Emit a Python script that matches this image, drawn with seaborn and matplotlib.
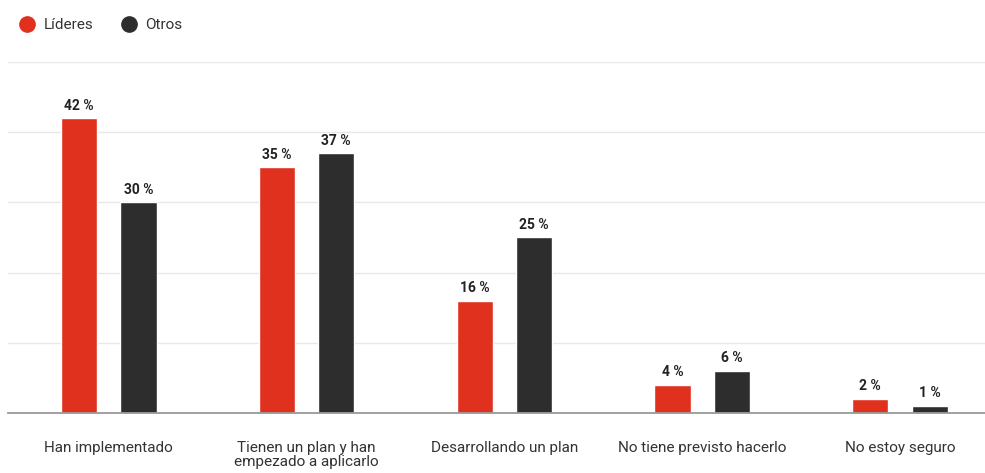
import pandas as pd
import seaborn as sns
import matplotlib.pyplot as plt
from matplotlib.lines import Line2D

# data
categorias = ["Han implementado", "Tienen un plan y han\nempezado a aplicarlo",
              "Desarrollando un plan", "No tiene previsto hacerlo", "No estoy seguro"]
lideres = [42, 35, 16, 4, 2]
otros = [30, 37, 25, 6, 1]
grupos = ["Líderes", "Otros"]
colores = ["#e0301e", "#2d2d2d"]

df = pd.DataFrame({
    "cat": categorias * 2,
    "valor": lideres + otros,
    "grupo": [grupos[0]] * len(categorias) + [grupos[1]] * len(categorias),
})

sns.set_style("white")
plt.rcParams['font.family'] = ['Roboto', 'DejaVu Sans']

fig = plt.figure(figsize=(9.85, 4.73), dpi=100)
ax = fig.add_axes([8 / 985, 60 / 473, 977 / 985, 351 / 473])

sns.barplot(data=df, x="cat", y="valor", hue="grupo", palette=colores,
            width=0.6, gap=0.39, saturation=1, legend=False, ax=ax)

for cont in ax.containers:
    ax.bar_label(cont, fmt="{:.0f} %", padding=4, fontsize=10,
                 fontweight="bold", color="#222222")

ax.set_ylim(0, 50)
ax.set_xlim(-0.51, 4.43)
ax.set_yticks(range(0, 51, 10))
ax.yaxis.grid(True, color="#e8e8e8", linewidth=1)
ax.set_axisbelow(True)
ax.tick_params(axis="y", left=False, labelleft=False)
ax.tick_params(axis="x", bottom=False, pad=17, labelsize=11, labelcolor="#333333")
for lab in ax.get_xticklabels():
    lab.set_linespacing(1.0)
ax.set_xlabel("")
ax.set_ylabel("")
for s in ["top", "right", "left"]:
    ax.spines[s].set_visible(False)
ax.spines["bottom"].set_color("#999999")
ax.spines["bottom"].set_linewidth(1.3)

handles = [Line2D([0], [0], marker="o", linestyle="", markersize=11,
                  markerfacecolor=c, markeredgecolor=c) for c in colores]
fig.legend(handles, grupos, loc="upper left", bbox_to_anchor=(-0.002, 0.99),
           ncol=2, frameon=False, fontsize=11, handletextpad=0.1,
           columnspacing=1.3, labelcolor="#333333")

fig.savefig("out.png", dpi=100)
